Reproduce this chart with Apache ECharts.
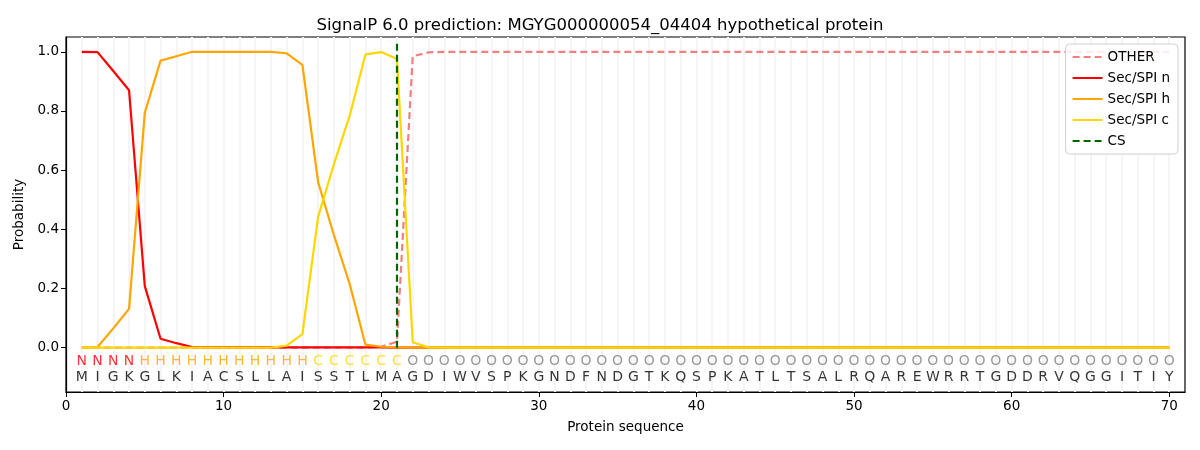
<!DOCTYPE html>
<html><head><meta charset="utf-8">
<script src="https://cdn.jsdelivr.net/npm/echarts@6/dist/echarts.min.js"></script>
<style>html,body{margin:0;padding:0;background:#fff}#c{width:1200px;height:450px}</style>
</head><body><div id="c"></div>
<script>
const titleText = 'SignalP 6.0 prediction: MGYG000000054_04404 hypothetical protein';
const sequence = 'MIGKGLKIACSLLAISSTLMAGDIWVSPKGNDFNDGTKQSPKATLTSALRQAREWRRTGDDRVQGGITIY'.split('');
const regionLabels = ('NNNN' + 'HHHHHHHHHHH' + 'CCCCCC' + 'O'.repeat(49)).split('');
const otherVals = [0,0,0,0,0,0,0,0,0,0,0,0,0,0,0,0,0,0,0,0.003,0.02,0.985,0.998,1,1,1,1,1,1,1,1,1,1,1,1,1,1,1,1,1,1,1,1,1,1,1,1,1,1,1,1,1,1,1,1,1,1,1,1,1,1,1,1,1,1,1,1,1,1,1];
const nVals = [1.0,0.999,0.935,0.870,0.208,0.030,0.015,0.002,0.001,0.001,0.001,0.001,0.001,0.001,0.001,0.001,0.001,0.001,0.001,0.001,0,0,0,0,0,0,0,0,0,0,0,0,0,0,0,0,0,0,0,0,0,0,0,0,0,0,0,0,0,0,0,0,0,0,0,0,0,0,0,0,0,0,0,0,0,0,0,0,0,0];
const hVals = [0,0.002,0.065,0.131,0.794,0.970,0.985,1.0,1.0,1.0,1.0,1.0,1.0,0.995,0.956,0.559,0.38,0.215,0.010,0.003,0.001,0,0,0,0,0,0,0,0,0,0,0,0,0,0,0,0,0,0,0,0,0,0,0,0,0,0,0,0,0,0,0,0,0,0,0,0,0,0,0,0,0,0,0,0,0,0,0,0,0];
const cVals = [0,0,0,0,0,0,0,0,0,0,0,0,0,0.007,0.046,0.443,0.62,0.784,0.991,0.999,0.976,0.018,0.001,0,0,0,0,0,0,0,0,0,0,0,0,0,0,0,0,0,0,0,0,0,0,0,0,0,0,0,0,0,0,0,0,0,0,0,0,0,0,0,0,0,0,0,0,0,0,0];
const csPosition = 21;
const csTop = 1.035;
const xTicks = [0,10,20,30,40,50,60,70];
const yTicks = [0,0.2,0.4,0.6,0.8,1.0];
const labelRowY = -0.045;
const seqRowY = -0.1;

const labelColors = {N:'#ff0000', H:'#ffa500', C:'#ffd700', O:'#808080'};
const positions = sequence.map((_, i) => i + 1);
const pts = vals => vals.map((v, i) => [positions[i], v]);
const FONT = 'DejaVu Sans';

const chart = echarts.init(document.getElementById('c'), null, {renderer:'canvas'});
const textSeries = (rowY, texts, colorFn) => ({
  type:'scatter', silent:true, symbolSize:0, z:5,
  data: positions.map((p, i) => ({value:[p, rowY], label:{color: colorFn(texts[i])}})),
  label:{show:true, position:'inside', fontFamily:FONT, fontSize:14,
    formatter: p => texts[p.dataIndex]}
});
const lineSeries = (name, vals, color, dashed) => ({
  type:'line', name, data:pts(vals), symbol:'none', z:2,
  lineStyle:{color, width:2.2, type: dashed ? [7,4] : 'solid'}, itemStyle:{color}
});

chart.setOption({
  animation:false,
  title:{text:titleText, left:'center', top:12, textStyle:{fontFamily:FONT, fontSize:16.5, fontWeight:'normal', color:'#000'}},
  grid:{left:66, right:15, top:37, bottom:58, show:true, borderColor:'#000', borderWidth:1.2, backgroundColor:'transparent'},
  legend:{
    orient:'vertical', right:22, top:44, itemWidth:30, itemHeight:14, itemGap:7,
    padding:[6,8,6,6], borderColor:'#d0d0d0', borderWidth:1, borderRadius:4,
    backgroundColor:'rgba(255,255,255,0.85)',
    itemStyle:{opacity:0},
    textStyle:{fontFamily:FONT, fontSize:13.5, color:'#000'},
    data:['OTHER','Sec/SPI n','Sec/SPI h','Sec/SPI c','CS']
  },
  xAxis:{
    type:'value', min:0, max:71, name:'Protein sequence', nameLocation:'middle', nameGap:28,
    nameTextStyle:{fontFamily:FONT, fontSize:13.5, color:'#000'},
    axisLine:{onZero:false, lineStyle:{color:'#000', width:1.2}},
    axisTick:{customValues:xTicks, length:5, lineStyle:{color:'#000'}},
    axisLabel:{customValues:xTicks, fontFamily:FONT, fontSize:13.5, color:'#000', margin:7},
    splitLine:{show:false}
  },
  yAxis:{
    type:'value', min:-0.15, max:1.05, name:'Probability', nameLocation:'middle', nameGap:40, nameRotate:90,
    nameTextStyle:{fontFamily:FONT, fontSize:13.5, color:'#000'},
    axisLine:{show:true, onZero:false, lineStyle:{color:'#000', width:1.2}},
    axisTick:{show:true, customValues:yTicks, length:5, lineStyle:{color:'#000'}},
    axisLabel:{customValues:yTicks, fontFamily:FONT, fontSize:13.5, color:'#000', margin:7, formatter:v=>v.toFixed(1)},
    splitLine:{show:false}
  },
  series:[
    {type:'line', name:'grid', silent:true, data:[], z:0,
      markLine:{silent:true, symbol:'none', label:{show:false}, z:0,
        lineStyle:{color:'#f5f5f5', width:2, type:'solid'},
        data: positions.map(p => ({xAxis:p}))}},
    lineSeries('OTHER', otherVals, '#f08080', true),
    lineSeries('Sec/SPI n', nVals, '#ff0000', false),
    lineSeries('Sec/SPI h', hVals, '#ffa500', false),
    lineSeries('Sec/SPI c', cVals, '#ffd700', false),
    {type:'line', name:'CS', data:[], symbol:'none', z:3,
      lineStyle:{color:'#006400', width:2.2, type:[7,4]}, itemStyle:{color:'#006400'},
      markLine:{silent:true, symbol:'none', label:{show:false}, z:3,
        lineStyle:{color:'#006400', width:2.2, type:[7,4]},
        data:[[{coord:[csPosition,0]},{coord:[csPosition,csTop]}]]}},
    textSeries(labelRowY, regionLabels, t => labelColors[t]),
    textSeries(seqRowY, sequence, () => '#000')
  ]
});
</script></body></html>
